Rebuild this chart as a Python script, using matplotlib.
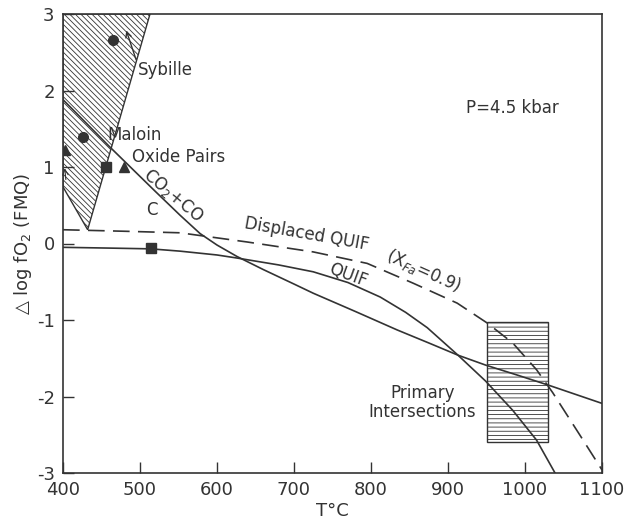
import matplotlib
matplotlib.use('Agg')
import matplotlib.pyplot as plt
from matplotlib.patches import Polygon, Rectangle

plt.rcParams['font.family'] = ['DejaVu Sans']
plt.rcParams['axes.unicode_minus'] = False
plt.rcParams['hatch.linewidth'] = 0.6

# CO2+CO / C buffer curve
co2_T = [400, 460, 520, 552, 578, 600, 626, 660, 700, 725, 780, 834, 875, 913, 949, 990, 1030, 1100]
co2_y = [1.88, 1.27, 0.68, 0.37, 0.13, -0.02, -0.17, -0.34, -0.53, -0.65, -0.89, -1.13, -1.30, -1.46, -1.59, -1.72, -1.85, -2.09]

# QUIF curve
quif_T = [400, 460, 514, 552, 600, 626, 680, 725, 770, 812, 845, 873, 913, 949, 984, 1015, 1039]
quif_y = [-0.05, -0.06, -0.07, -0.10, -0.15, -0.19, -0.28, -0.37, -0.51, -0.70, -0.90, -1.10, -1.46, -1.80, -2.18, -2.57, -3.0]

# displaced QUIF (XFa = 0.9), dashed
dq_T = [400, 480, 552, 639, 725, 795, 855, 912, 951, 984, 1015, 1036, 1071, 1100]
dq_y = [0.18, 0.16, 0.14, 0.02, -0.11, -0.26, -0.52, -0.78, -1.04, -1.30, -1.65, -1.95, -2.50, -2.96]

# Sybille / Maloin hatched field
field_T = [400, 513, 432, 400]
field_y = [3.0, 3.0, 0.18, 0.74]

# primary intersections box
box_T = [950, 1030]
box_y = [-2.6, -1.03]

# data points
circ_T = [465, 426]
circ_y = [2.66, 1.39]
tri_T = [403, 479]
tri_y = [1.22, 1.0]
sq_T = [456, 514]
sq_y = [1.0, -0.06]

fig = plt.figure(figsize=(6.26, 5.25), dpi=100)
ax = fig.add_axes([63/626, 1-473/525, (602-63)/626, (473-14)/525])

ax.add_patch(Polygon(list(zip(field_T, field_y)), closed=True, facecolor='none',
                     edgecolor='#333333', hatch='\\\\\\\\\\\\', lw=1.0))
ax.add_patch(Rectangle((box_T[0], box_y[0]), box_T[1]-box_T[0], box_y[1]-box_y[0],
                       facecolor='none', edgecolor='#333333', hatch='----', lw=1.0))

ax.plot(co2_T, co2_y, color='#333333', lw=1.2)
ax.plot(quif_T, quif_y, color='#333333', lw=1.2)
ax.plot(dq_T, dq_y, color='#333333', lw=1.2, linestyle=(0, (10, 5)))

ax.plot(circ_T, circ_y, 'o', color='#333333', ms=7)
ax.plot(tri_T, tri_y, '^', color='#333333', ms=7)
ax.plot(sq_T, sq_y, 's', color='#333333', ms=7)

# small arrows (lower limits)
ax.annotate('', xy=(481, 2.82), xytext=(496, 2.37),
            arrowprops=dict(arrowstyle='->', color='#333333', lw=1.0))
ax.annotate('', xy=(402, 1.02), xytext=(404, 0.80),
            arrowprops=dict(arrowstyle='->', color='#333333', lw=0.8))

kw = dict(color='#333333', fontsize=12)
ax.text(497, 2.27, 'Sybille', ha='left', va='center', **kw)
ax.text(458, 1.42, 'Maloin', ha='left', va='center', **kw)
ax.text(490, 1.13, 'Oxide Pairs', ha='left', va='center', **kw)
ax.text(543, 0.62, 'CO$_2$+CO', ha='center', va='center', rotation=-40, **kw)
ax.text(516, 0.44, 'C', ha='center', va='center', **kw)
ax.text(716, 0.12, 'Displaced QUIF', ha='center', va='center', rotation=-10, **kw)
ax.text(868, -0.35, '(X$_{Fa}$=0.9)', ha='center', va='center', rotation=-24, **kw)
ax.text(770, -0.41, 'QUIF', ha='center', va='center', rotation=-20, **kw)
ax.text(984, 1.77, 'P=4.5 kbar', ha='center', va='center', **kw)
ax.text(867, -2.08, 'Primary\nIntersections', ha='center', va='center', linespacing=1.1, **kw)

ax.set_xlim(400, 1100)
ax.set_ylim(-3, 3)
ax.set_xticks([400, 500, 600, 700, 800, 900, 1000, 1100])
ax.set_yticks([-3, -2, -1, 0, 1, 2, 3])
ax.tick_params(direction='in', length=8, width=1.0, labelsize=13, colors='#333333', pad=6)
for s in ax.spines.values():
    s.set_color('#333333')
    s.set_linewidth(1.2)

ax.set_xlabel('T°C', fontsize=13, color='#333333', labelpad=2)
ax.set_ylabel('△ log fO$_2$ (FMQ)', fontsize=13, color='#333333', labelpad=2)

fig.savefig('out.png', dpi=100)
